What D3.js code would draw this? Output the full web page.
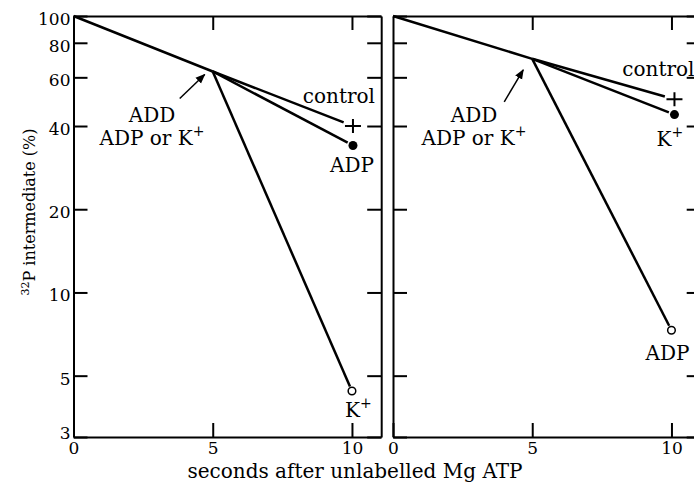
<!DOCTYPE html>
<html>
<head>
<meta charset="utf-8">
<script src="https://cdn.jsdelivr.net/npm/d3@7"></script>
<style>
  body { margin: 0; background: #fff; }
  svg { display: block; }
  svg text { font-family: "DejaVu Serif", "Liberation Serif", serif; fill: #000; }
  .axis path, .axis line { stroke: #000; stroke-width: 2; }
  .axis text { font-size: 17px; }
  .trace { fill: none; stroke: #000; stroke-width: 2.5; }
  .note { font-size: 20px; }
</style>
</head>
<body>
<div id="container"></div>
<script>
// values (percent of 32P intermediate remaining)
const yTicks = [3, 5, 10, 20, 40, 60, 80, 100];
const xTicks = [0, 5, 10];
const xTopTicks = [5, 10];

const leftStart = [[0, 100], [5, 63]];
const leftControl = [[5, 63], [10, 40]];
const leftADP = [[5, 63], [10, 34]];
const leftK = [[5, 63], [10, 4.4]];

const rightStart = [[0, 100], [5, 70]];
const rightControl = [[5, 70], [10, 50]];
const rightK = [[5, 70], [10, 44]];
const rightADP = [[5, 70], [10, 7.3]];

const W = 694, H = 493;
const yTop = 16, yBottom = 437;
const panelW = 307.7;

const svg = d3.select('#container')
  .append('svg')
  .attr('width', W)
  .attr('height', H);

const defs = svg.append('defs');
defs.append('marker')
  .attr('id', 'head')
  .attr('viewBox', '0 0 10 10')
  .attr('refX', 9).attr('refY', 5)
  .attr('markerWidth', 10).attr('markerHeight', 10)
  .attr('markerUnits', 'userSpaceOnUse')
  .attr('orient', 'auto')
  .append('path')
  .attr('d', 'M0,1 L10,5 L0,9 Z')
  .attr('fill', '#000');

const y = d3.scaleLog().domain([3, 100]).range([yBottom, yTop]);

const panels = [
  {
    left: 73.5, labels: true, start: leftStart,
    arrow: { tip: [-8, 3], tail: [-33, 27] },
    addX: 152,
    series: [
      { data: leftControl, mark: 'plus', dx: 1, text: 'control', tx: 23, ty: -23, anchor: 'end' },
      { data: leftADP, mark: 'dot', dx: 1, text: 'ADP', tx: 0, ty: 26, anchor: 'middle' },
      { data: leftK, mark: 'ring', dx: 0, text: 'K', sup: '+', tx: -7, ty: 26, anchor: 'start' }
    ]
  },
  {
    left: 393, labels: false, start: rightStart,
    arrow: { tip: [-9, 11], tail: [-28, 43] },
    addX: 474,
    series: [
      { data: rightControl, mark: 'plus', dx: 3, text: 'control', tx: 23, ty: -23, anchor: 'end' },
      { data: rightK, mark: 'dot', dx: 3, text: 'K', sup: '+', tx: -15, ty: 31, anchor: 'start' },
      { data: rightADP, mark: 'ring', dx: 0, text: 'ADP', tx: -4, ty: 30, anchor: 'middle' }
    ]
  }
];

panels.forEach(p => {
  const x = d3.scaleLinear().domain([0, 11.05]).range([p.left, p.left + panelW]);
  const g = svg.append('g');

  // frame with inward ticks
  g.append('g').attr('class', 'axis')
    .attr('transform', `translate(${p.left},0)`)
    .call(d3.axisLeft(y).tickValues(yTicks).tickSizeInner(-14).tickSizeOuter(0).tickPadding(3)
      .tickFormat(p.labels ? d3.format('d') : ''))
    .call(a => a.selectAll('text').attr('dy', d => d === 3 ? '0.1em' : '0.5em'));

  g.append('g').attr('class', 'axis')
    .attr('transform', `translate(${p.left + panelW},0)`)
    .call(d3.axisLeft(y).tickValues(yTicks).tickSizeInner(14).tickSizeOuter(0).tickFormat(''));

  g.append('g').attr('class', 'axis')
    .attr('transform', `translate(0,${yTop})`)
    .call(d3.axisBottom(x).tickValues(xTopTicks).tickSizeInner(14).tickSizeOuter(0).tickFormat(''));

  g.append('g').attr('class', 'axis')
    .attr('transform', `translate(0,${yBottom})`)
    .call(d3.axisBottom(x).tickValues(xTicks).tickSizeInner(-14).tickSizeOuter(0).tickPadding(5)
      .tickFormat(d3.format('d')));

  // the axis generator sets its own font; put the serif face back
  g.selectAll('.axis').attr('font-family', null).attr('font-size', null);

  // lines
  const line = d3.line().x(d => x(d[0])).y(d => y(d[1]));
  g.append('path').attr('class', 'trace').attr('d', line(p.start));

  p.series.forEach(s => {
    const [a, b] = s.data;
    const x0 = x(a[0]), y0 = y(a[1]);
    const x1 = x(b[0]) + s.dx, y1 = y(b[1]);
    const gap = s.mark === 'plus' ? 10 : s.mark === 'dot' ? 6 : 5;
    const len = Math.hypot(x1 - x0, y1 - y0);
    g.append('path').attr('class', 'trace')
      .attr('d', `M${x0},${y0}L${x1 - (x1 - x0) / len * gap},${y1 - (y1 - y0) / len * gap}`);

    if (s.mark === 'plus') {
      g.append('path')
        .attr('d', `M${x1 - 8},${y1}H${x1 + 8}M${x1},${y1 - 7}V${y1 + 7}`)
        .attr('stroke', '#000').attr('stroke-width', 2);
    } else if (s.mark === 'dot') {
      g.append('circle').attr('cx', x1).attr('cy', y1).attr('r', 4.5).attr('fill', '#000');
    } else {
      g.append('circle').attr('cx', x1).attr('cy', y1).attr('r', 3.8)
        .attr('fill', '#fff').attr('stroke', '#000').attr('stroke-width', 1.5);
    }

    const t = g.append('text').attr('class', 'note')
      .attr('x', x(b[0]) + s.tx).attr('y', y(b[1]) + s.ty)
      .attr('text-anchor', s.anchor)
      .text(s.text);
    if (s.sup) t.append('tspan').attr('font-size', 14).attr('dy', -9).text(s.sup);
  });

  // "ADD ADP or K+" annotation with arrow
  const jx = x(p.start[1][0]), jy = y(p.start[1][1]);
  g.append('line')
    .attr('x1', jx + p.arrow.tail[0]).attr('y1', jy + p.arrow.tail[1])
    .attr('x2', jx + p.arrow.tip[0]).attr('y2', jy + p.arrow.tip[1])
    .attr('stroke', '#000').attr('stroke-width', 1.5)
    .attr('marker-end', 'url(#head)');

  g.append('text').attr('class', 'note')
    .attr('x', p.addX).attr('y', 122).attr('text-anchor', 'middle').text('ADD');
  const l2 = g.append('text').attr('class', 'note')
    .attr('x', p.addX).attr('y', 145).attr('text-anchor', 'middle').text('ADP or K');
  l2.append('tspan').attr('font-size', 14).attr('dy', -9).text('+');
});

// axis titles
svg.append('text').attr('class', 'note')
  .attr('x', 355).attr('y', 478).attr('text-anchor', 'middle')
  .text('seconds after unlabelled Mg ATP');

const yt = svg.append('text')
  .attr('transform', 'translate(35,212) rotate(-90)')
  .attr('text-anchor', 'middle')
  .attr('font-size', 16);
yt.append('tspan').attr('font-size', 11).attr('dy', -6).text('32');
yt.append('tspan').attr('dy', 6).text('P intermediate (%)');
</script>
</body>
</html>
